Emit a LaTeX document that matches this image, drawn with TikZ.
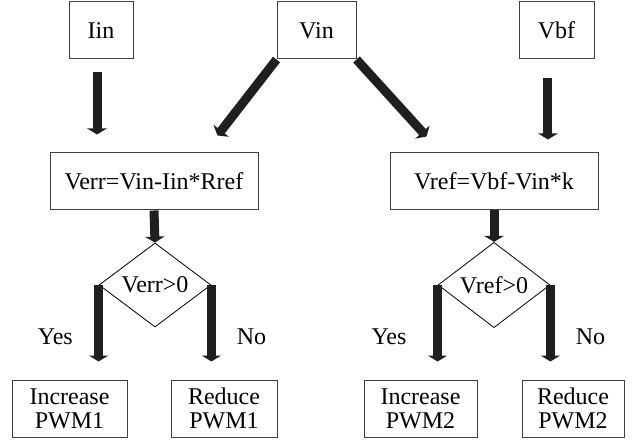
\documentclass[tikz,border=0pt]{standalone}
\usepackage{fontspec}
\setmainfont{Liberation Serif}
\usetikzlibrary{arrows.meta,shapes.geometric}

\tikzset{
  box/.style={draw=black!75,line width=0.75pt,minimum height=42.75pt,inner sep=0pt,align=center},
  cond/.style={diamond,draw=black,line width=0.6pt,minimum width=84pt,minimum height=63pt,inner sep=0pt},
  fatarrow/.style={draw=black!88,line width=6.75pt,-{Triangle[length=4.5pt,width=14.5pt]}},
  lbl/.style={inner sep=0pt}
}

\begin{document}
\begin{tikzpicture}[x=0.75pt,y=-0.75pt,font=\fontsize{18}{18}\selectfont]
\useasboundingbox (0,0) rectangle (632,442);
% inputs
\node[box,minimum width=48pt] (iin) at (101,30.5) {Iin};
\node[box,minimum width=59.25pt] (vin) at (316.5,30.5) {Vin};
\node[box,minimum width=56.25pt] (vbf) at (556.5,30.5) {Vbf};
% computed values
\node[box,minimum width=156pt] (verr) at (154,181.5) {Verr=Vin-Iin*Rref};
\node[box,minimum width=156pt] (vref) at (494,181.5) {Vref=Vbf-Vin*k};
% decisions
\node[cond] (cerr) at (155,285) {Verr>0};
\node[cond] (cref) at (494,285) {Vref>0};
% outputs
\node[box,minimum width=86.25pt] (inc1) at (69.5,408.5) {Increase\\PWM1};
\node[box,minimum width=79.5pt] (red1) at (224,408.5) {Reduce\\PWM1};
\node[box,minimum width=84.75pt] (inc2) at (420.5,408.5) {Increase\\PWM2};
\node[box,minimum width=76.5pt] (red2) at (573,408.5) {Reduce\\PWM2};

\draw[fatarrow,shorten <=9.75pt,shorten >=13.5pt] ([xshift=-3pt]iin.south) -- ([xshift=-3pt]iin.south |- verr.north);
\draw[fatarrow,shorten <=14.25pt,shorten >=9.75pt] ([xshift=-6.4pt]vbf.south) -- ([xshift=-6.4pt]vbf.south |- vref.north);
\draw[fatarrow] (vin.south west) -- ([xshift=-30.75pt,yshift=12.75pt]verr.north east);
\draw[fatarrow] (vin.south east) -- ([xshift=27.75pt,yshift=12pt]vref.north west);

\draw[fatarrow] (verr.south) -- (cerr.north);
\draw[fatarrow] (vref.south) -- (cref.north);

\draw[fatarrow,shorten >=13.5pt] (cerr.west) -- (cerr.west |- inc1.north) node[lbl,pos=0.545,left=16pt] {Yes};
\draw[fatarrow,shorten >=13.5pt] (cerr.east) -- (cerr.east |- red1.north) node[lbl,pos=0.545,right=15.75pt] {No};
\draw[fatarrow,shorten >=13.5pt] (cref.west) -- (cref.west |- inc2.north) node[lbl,pos=0.545,left=20pt] {Yes};
\draw[fatarrow,shorten >=13.5pt] (cref.east) -- (cref.east |- red2.north) node[lbl,pos=0.545,right=15.75pt] {No};
\end{tikzpicture}
\end{document}
